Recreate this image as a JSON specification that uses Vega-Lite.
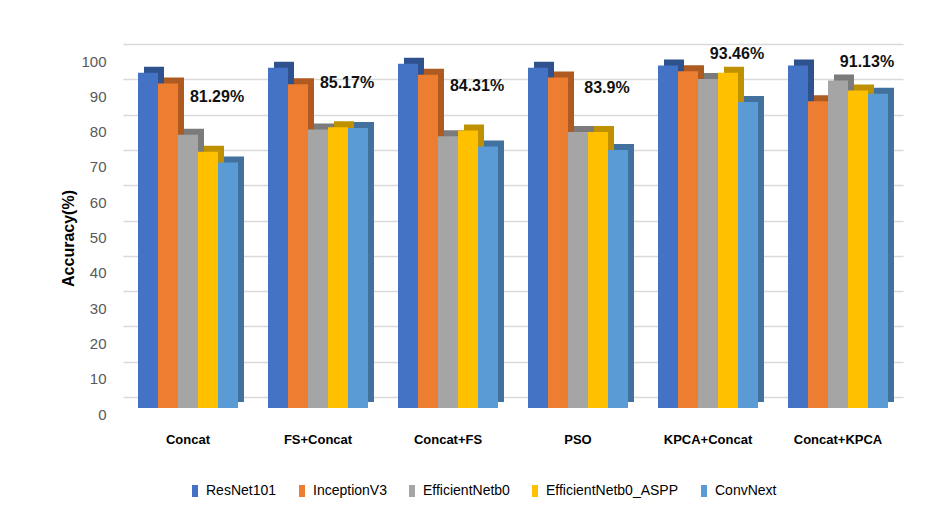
{
  "$schema": "https://vega.github.io/schema/vega-lite/v6.json",
  "width": 780,
  "height": 353,
  "autosize": {"type": "none"},
  "padding": {"left": 123, "top": 55, "right": 42, "bottom": 112},
  "background": "white",
  "config": {
    "view": {"stroke": null},
    "font": "Liberation Sans, Arial, sans-serif"
  },
  "data": {
    "values": [
      {"method": "Concat", "model": "ResNet101", "acc": 95.0},
      {"method": "Concat", "model": "InceptionV3", "acc": 91.9},
      {"method": "Concat", "model": "EfficientNetb0", "acc": 77.4},
      {"method": "Concat", "model": "EfficientNetb0_ASPP", "acc": 72.6},
      {"method": "Concat", "model": "ConvNext", "acc": 69.55},
      {"method": "FS+Concat", "model": "ResNet101", "acc": 96.4},
      {"method": "FS+Concat", "model": "InceptionV3", "acc": 91.7},
      {"method": "FS+Concat", "model": "EfficientNetb0", "acc": 78.9},
      {"method": "FS+Concat", "model": "EfficientNetb0_ASPP", "acc": 79.5},
      {"method": "FS+Concat", "model": "ConvNext", "acc": 79.35},
      {"method": "Concat+FS", "model": "ResNet101", "acc": 97.5},
      {"method": "Concat+FS", "model": "InceptionV3", "acc": 94.4},
      {"method": "Concat+FS", "model": "EfficientNetb0", "acc": 77.0},
      {"method": "Concat+FS", "model": "EfficientNetb0_ASPP", "acc": 78.6},
      {"method": "Concat+FS", "model": "ConvNext", "acc": 74.05},
      {"method": "PSO", "model": "ResNet101", "acc": 96.4},
      {"method": "PSO", "model": "InceptionV3", "acc": 93.6},
      {"method": "PSO", "model": "EfficientNetb0", "acc": 78.2},
      {"method": "PSO", "model": "EfficientNetb0_ASPP", "acc": 78.2},
      {"method": "PSO", "model": "ConvNext", "acc": 73.1},
      {"method": "KPCA+Concat", "model": "ResNet101", "acc": 97.0},
      {"method": "KPCA+Concat", "model": "InceptionV3", "acc": 95.4},
      {"method": "KPCA+Concat", "model": "EfficientNetb0", "acc": 93.2},
      {"method": "KPCA+Concat", "model": "EfficientNetb0_ASPP", "acc": 95.0},
      {"method": "KPCA+Concat", "model": "ConvNext", "acc": 86.7},
      {"method": "Concat+KPCA", "model": "ResNet101", "acc": 97.0},
      {"method": "Concat+KPCA", "model": "InceptionV3", "acc": 86.9},
      {"method": "Concat+KPCA", "model": "EfficientNetb0", "acc": 92.8},
      {"method": "Concat+KPCA", "model": "EfficientNetb0_ASPP", "acc": 89.95},
      {"method": "Concat+KPCA", "model": "ConvNext", "acc": 89.0}
    ]
  },
  "encoding": {
    "x": {
      "field": "method",
      "type": "nominal",
      "sort": ["Concat", "FS+Concat", "Concat+FS", "PSO", "KPCA+Concat", "Concat+KPCA"],
      "scale": {"paddingInner": 0.230769, "paddingOuter": 0.115385},
      "axis": {
        "title": null,
        "labelAngle": 0,
        "labelFontSize": 13,
        "labelFontWeight": "bold",
        "labelColor": "#000000",
        "ticks": false,
        "domain": false,
        "labelPadding": 25
      }
    },
    "y": {
      "field": "acc",
      "type": "quantitative",
      "title": "Accuracy(%)",
      "scale": {"domain": [0, 100]},
      "axis": {
        "values": [0, 10, 20, 30, 40, 50, 60, 70, 80, 90, 100],
        "labelFontSize": 15,
        "labelColor": "#595959",
        "labelPadding": 17,
        "tickOffset": -11,
        "labelOffset": 17,
        "ticks": false,
        "domain": false,
        "gridColor": "#d9d9d9",
        "gridWidth": 1.5,
        "titleFontSize": 16,
        "titleFontWeight": "bold",
        "titleColor": "#000000",
        "titleX": -55,
        "titleY": 183,
        "titleAlign": "center",
        "titleBaseline": "middle"
      }
    }
  },
  "layer": [
    {
      "mark": {"type": "bar", "yOffset": -6},
      "encoding": {
        "xOffset": {
          "field": "model",
          "sort": ["ResNet101", "InceptionV3", "EfficientNetb0", "EfficientNetb0_ASPP", "ConvNext"],
          "scale": {"range": [6, 106]}
        },
        "color": {
          "field": "model",
          "type": "nominal",
          "scale": {
            "domain": ["ResNet101", "InceptionV3", "EfficientNetb0", "EfficientNetb0_ASPP", "ConvNext"],
            "range": ["#2F528F", "#AE5A21", "#7B7B7B", "#BF9000", "#41719C"]
          },
          "legend": null
        }
      }
    },
    {
      "mark": {"type": "bar"},
      "encoding": {
        "xOffset": {
          "field": "model",
          "sort": ["ResNet101", "InceptionV3", "EfficientNetb0", "EfficientNetb0_ASPP", "ConvNext"],
          "scale": {"range": [0, 100]}
        },
        "color": {
          "field": "model",
          "type": "nominal",
          "scale": {
            "domain": ["ResNet101", "InceptionV3", "EfficientNetb0", "EfficientNetb0_ASPP", "ConvNext"],
            "range": ["#4472C4", "#ED7D31", "#A5A5A5", "#FFC000", "#5B9BD5"]
          },
          "legend": {
            "title": null,
            "orient": "none",
            "legendX": 65,
            "legendY": 429,
            "direction": "horizontal",
            "symbolType": "M-0.5,-1H0.5V1H-0.5Z",
            "symbolSize": 144,
            "symbolStrokeWidth": 0,
            "labelFontSize": 14,
            "labelColor": "#000000",
            "labelOffset": 4,
            "columnPadding": 18
          }
        }
      }
    },
    {
      "transform": [
        {"aggregate": [{"op": "mean", "field": "acc", "as": "avg"}], "groupby": ["method"]},
        {"calculate": "format(datum.avg, '.4~r') + '%'", "as": "label"}
      ],
      "mark": {"type": "text", "dx": 29, "dy": -24, "fontSize": 16, "fontWeight": "bold", "color": "#111111"},
      "encoding": {
        "y": {"field": "avg", "type": "quantitative", "title": "Accuracy(%)"},
        "text": {"field": "label", "type": "nominal"}
      }
    }
  ],
  "resolve": {"scale": {"color": "independent", "xOffset": "independent"}}
}
